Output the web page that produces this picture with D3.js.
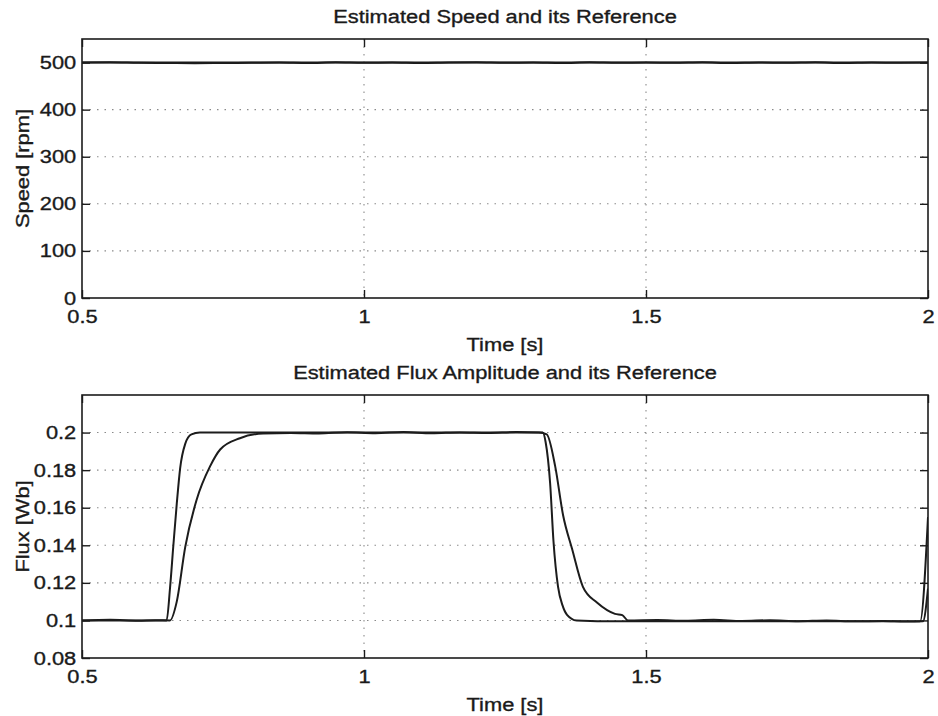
<!DOCTYPE html>
<html>
<head>
<meta charset="utf-8">
<script src="https://cdn.jsdelivr.net/npm/d3@7"></script>
<style>
  body { margin: 0; background: #fff; }
  text { font-family: "Liberation Sans", Arial, Helvetica, sans-serif; fill: #1a1a1a; }
</style>
</head>
<body>
<svg id="chart"></svg>
<script>
const WIDTH = 938, HEIGHT = 716;

// tick values
const timeTicks = [0.5, 1, 1.5, 2];
const speedTicks = [0, 100, 200, 300, 400, 500];
const fluxTicks = [0.08, 0.1, 0.12, 0.14, 0.16, 0.18, 0.2];

// speed: reference and estimate (rpm)
const speedRefT = [0.5, 2.0];
const speedRef = [500, 500];
const speedEstT = [0.5, 0.55, 0.6, 0.65, 0.7, 0.75, 0.8, 0.85, 0.9, 0.95, 1.0, 1.05, 1.1, 1.15, 1.2, 1.25,
                   1.3, 1.35, 1.4, 1.45, 1.5, 1.55, 1.6, 1.65, 1.7, 1.75, 1.8, 1.85, 1.9, 1.95, 2.0];
const speedEst = [500, 500.5, 499.5, 499, 498.5, 499, 499.5, 500, 499, 500.5, 499.5, 500, 499, 500, 500.5, 499.5,
                  500, 499, 500.5, 499.5, 500, 499.5, 500.5, 499, 500, 499.5, 500.5, 499, 500, 499.5, 500];

// flux amplitude: reference and estimate (Wb)
const fluxRefT = [0.5, 0.6, 0.65, 0.656, 0.662, 0.668, 0.674, 0.683, 0.694, 0.709, 0.76, 0.9, 1.1, 1.3,
                  1.317, 1.322, 1.330, 1.336, 1.344, 1.352, 1.360, 1.377, 1.45, 1.6, 1.8, 1.986, 2.0];
const fluxRef = [0.1, 0.1, 0.1, 0.117, 0.14, 0.162, 0.181, 0.194, 0.199, 0.2, 0.2, 0.2, 0.2, 0.2,
                 0.2, 0.195, 0.173, 0.142, 0.118, 0.108, 0.103, 0.1, 0.0995, 0.0995, 0.0995, 0.0995, 0.155];
const fluxEstT = [0.5, 0.55, 0.6, 0.63, 0.656, 0.668, 0.683, 0.703, 0.727, 0.745, 0.78, 0.821,
                  0.87, 0.92, 0.97, 1.02, 1.07, 1.12, 1.17, 1.22, 1.27, 1.31,
                  1.324, 1.339, 1.353, 1.369, 1.388, 1.413, 1.431, 1.445, 1.458, 1.468,
                  1.52, 1.57, 1.62, 1.67, 1.72, 1.77, 1.82, 1.87, 1.92, 1.96, 1.991, 2.0];
const fluxEst = [0.1, 0.1003, 0.0998, 0.1001, 0.1, 0.110, 0.139, 0.164, 0.182, 0.191, 0.197, 0.1995,
                 0.1998, 0.1995, 0.2002, 0.1997, 0.2003, 0.1996, 0.2001, 0.1998, 0.2003, 0.2,
                 0.199, 0.182, 0.156, 0.138, 0.118, 0.1095, 0.1055, 0.1035, 0.1028, 0.1,
                 0.1002, 0.0998, 0.1003, 0.0997, 0.1001, 0.0996, 0.1, 0.0995, 0.0997, 0.0994, 0.0995, 0.117];

const STRETCH = 1.15;   // the scanned font is wider than Liberation Sans
const FONT = 19;

const svg = d3.select("svg#chart")
                .attr("width", WIDTH)
                .attr("height", HEIGHT);

const left = 82, right = 928;

const panels = [
    {
        top: 39, bottom: 298, domain: [0, 550], ticks: speedTicks,
        title: "Estimated Speed and its Reference", yLabel: "Speed [rpm]",
        series: [[speedRefT, speedRef], [speedEstT, speedEst]]
    },
    {
        top: 395, bottom: 658, domain: [0.08, 0.22], ticks: fluxTicks,
        title: "Estimated Flux Amplitude and its Reference", yLabel: "Flux [Wb]",
        series: [[fluxRefT, fluxRef], [fluxEstT, fluxEst]]
    }
];

const xScale = d3.scaleLinear().domain([0.5, 2]).range([left, right]);

panels.forEach((p, i) => {
    const yScale = d3.scaleLinear().domain(p.domain).range([p.bottom, p.top]);
    const g = svg.append("g").attr("id", `panel-${i}`);

    const clipId = `clip-${i}`;
    svg.append("clipPath").attr("id", clipId)
        .append("rect")
            .attr("x", left).attr("y", p.top)
            .attr("width", right - left).attr("height", p.bottom - p.top);

    // dotted grid
    const grid = g.append("g")
                    .attr("stroke", "#8a8a8a")
                    .attr("stroke-width", 1.1)
                    .attr("stroke-dasharray", "1.5,6");
    grid.selectAll("line.h")
        .data(p.ticks.filter((d) => d > p.domain[0]))
        .join("line")
            .attr("class", "h")
            .attr("x1", left).attr("x2", right)
            .attr("y1", (d) => yScale(d)).attr("y2", (d) => yScale(d));
    grid.selectAll("line.v")
        .data(timeTicks.filter((d) => d > 0.5 && d < 2))
        .join("line")
            .attr("class", "v")
            .attr("y1", p.top).attr("y2", p.bottom)
            .attr("x1", (d) => xScale(d)).attr("x2", (d) => xScale(d));

    // curves
    const line = d3.line()
                    .x((d) => xScale(d[0]))
                    .y((d) => yScale(d[1]))
                    .curve(d3.curveMonotoneX);

    g.append("g")
        .attr("clip-path", `url(#${clipId})`)
        .selectAll("path")
        .data(p.series.map(([t, v]) => t.map((d, k) => [d, v[k]])))
        .join("path")
            .attr("d", line)
            .attr("fill", "none")
            .attr("stroke", "#1c1c1c")
            .attr("stroke-width", 2)
            .attr("stroke-linejoin", "round");

    // axes with inward ticks (matlab style)
    g.append("g")
        .attr("transform", `translate(${left}, 0)`)
        .call(d3.axisLeft(yScale).tickValues(p.ticks).tickFormat((d) => String(d))
                .tickSizeInner(-8).tickSizeOuter(0).tickPadding(5));
    g.append("g")
        .attr("transform", `translate(${right}, 0)`)
        .call(d3.axisRight(yScale).tickValues(p.ticks).tickFormat("")
                .tickSizeInner(-8).tickSizeOuter(0));
    g.append("g")
        .attr("transform", `translate(0, ${p.bottom})`)
        .call(d3.axisBottom(xScale).tickValues(timeTicks).tickFormat((d) => String(d))
                .tickSizeInner(-8).tickSizeOuter(0).tickPadding(12));
    g.append("g")
        .attr("transform", `translate(0, ${p.top})`)
        .call(d3.axisTop(xScale).tickValues(timeTicks).tickFormat("")
                .tickSizeInner(-8).tickSizeOuter(0));

    g.selectAll(".domain").remove();
    g.selectAll(".tick line").attr("stroke", "#1c1c1c").attr("stroke-width", 1.4);
    g.selectAll(".tick text")
        .attr("font-size", FONT)
        .attr("fill", "#1a1a1a")
        .attr("stroke", "#1a1a1a")
        .attr("stroke-width", 0.35)
        .attr("transform", `scale(${STRETCH}, 1)`);

    g.append("rect")
        .attr("x", left).attr("y", p.top)
        .attr("width", right - left).attr("height", p.bottom - p.top)
        .attr("fill", "none")
        .attr("stroke", "#1c1c1c")
        .attr("stroke-width", 1.6);

    // texts
    const labels = g.append("g")
                    .attr("font-size", FONT)
                    .attr("stroke", "#1a1a1a")
                    .attr("stroke-width", 0.35)
                    .style("text-anchor", "middle");

    labels.append("text")
        .attr("transform", `translate(${(left + right) / 2}, ${p.top - 16}) scale(${STRETCH}, 1)`)
        .text(p.title);

    labels.append("text")
        .attr("transform", `translate(${(left + right) / 2}, ${p.bottom + 53}) scale(${STRETCH}, 1)`)
        .text("Time [s]");

    labels.append("text")
        .attr("transform", `translate(29, ${(p.top + p.bottom) / 2}) rotate(-90) scale(${STRETCH}, 1)`)
        .text(p.yLabel);
});
</script>
</body>
</html>
